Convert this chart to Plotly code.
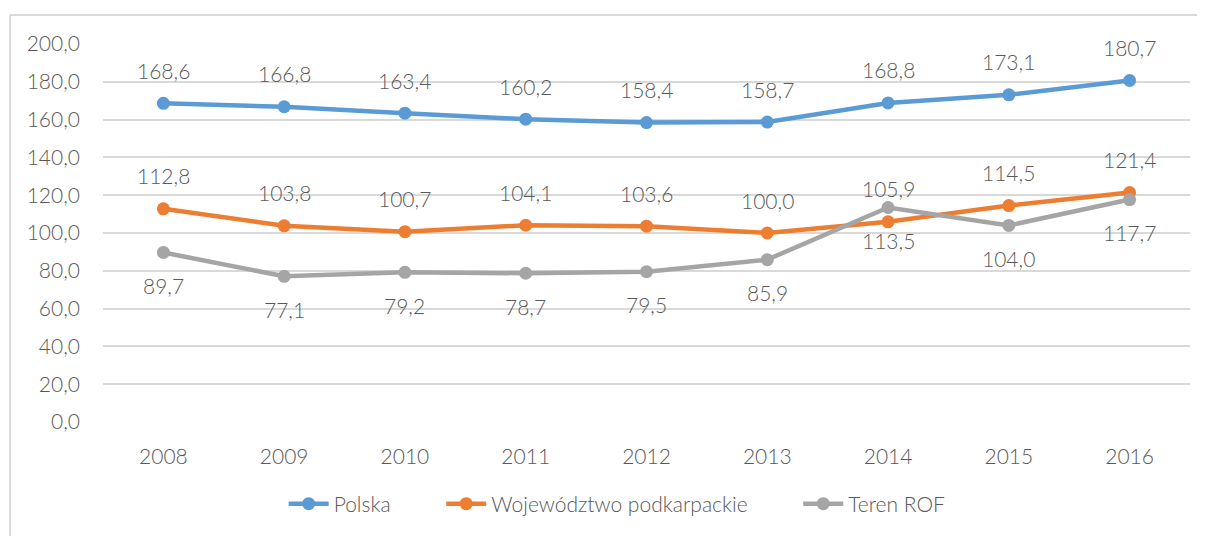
import plotly.graph_objects as go

years = ["2008", "2009", "2010", "2011", "2012", "2013", "2014", "2015", "2016"]
polska = [168.6, 166.8, 163.4, 160.2, 158.4, 158.7, 168.8, 173.1, 180.7]
podkarpackie = [112.8, 103.8, 100.7, 104.1, 103.6, 100.0, 105.9, 114.5, 121.4]
rof = [89.7, 77.1, 79.2, 78.7, 79.5, 85.9, 113.5, 104.0, 117.7]
y_ticks = [0, 20, 40, 60, 80, 100, 120, 140, 160, 180, 200]

FONT = "Lato"
TXT = "#595959"
FS = 21
W = 300
PAD = "\u00a0" * 8  # extra room between legend entries

series = [
    ("Polska", polska, "#5B9BD5", 33, PAD),
    ("Województwo podkarpackie", podkarpackie, "#ED7D31", 33, PAD),
    ("Teren ROF", rof, "#A5A5A5", -33, ""),
]

def f():
    return dict(family=FONT, size=FS, color=TXT, weight=W)

fig = go.Figure()
annotations = []
for name, vals, color, shift, pad in series:
    fig.add_trace(go.Scatter(
        x=years, y=vals, name=name + pad, mode="lines+markers",
        line=dict(color=color, width=4.5),
        marker=dict(color=color, size=13),
    ))
    for i, yv in enumerate(vals):
        annotations.append(dict(
            x=i, y=yv, xref="x", yref="y", text=f"{yv:.1f}".replace(".", ","),
            showarrow=False, yshift=shift, font=f(),
        ))

border = dict(color="#D9D9D9", width=2)
# the page body has an 8px margin, so the figure is laid out 8px in from the top-left
fig.update_layout(
    width=1197, height=528,
    margin=dict(l=95, r=15, t=36, b=114),
    paper_bgcolor="white", plot_bgcolor="white",
    font=f(),
    annotations=annotations,
    showlegend=True,
    legend=dict(orientation="h", x=0.473, xanchor="center", y=-0.217, yanchor="middle",
                font=f(), itemwidth=40, traceorder="normal"),
    shapes=[
        dict(type="line", xref="paper", yref="paper", x0=-0.0855, x1=1.2,
             y0=1.077, y1=1.077, line=border, layer="below"),
        dict(type="line", xref="paper", yref="paper", x0=-0.0855, x1=-0.0855,
             y0=-0.5, y1=1.077, line=border, layer="below"),
    ],
)
fig.update_xaxes(type="category", range=[-0.5, 8.5], showgrid=False, showline=False,
                 ticks="", tickfont=f(), ticklabelstandoff=20)
fig.update_yaxes(range=[0, 200], tickvals=y_ticks,
                 ticktext=[f"{v:.1f}".replace(".", ",") for v in y_ticks],
                 showgrid=True, gridcolor="#D9D9D9", gridwidth=1.5, zeroline=False,
                 showline=False, ticks="", tickfont=f(), ticklabelstandoff=22)

fig.write_html("out.html")
